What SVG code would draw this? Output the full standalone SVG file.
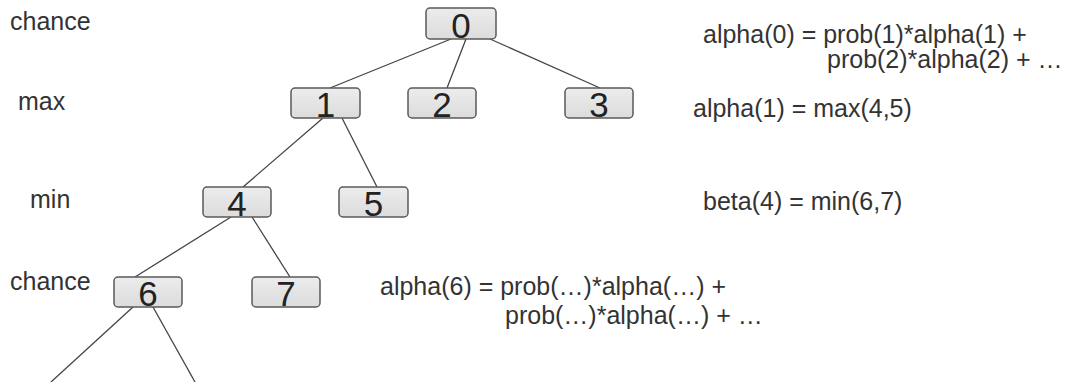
<svg xmlns="http://www.w3.org/2000/svg" width="1079" height="382" viewBox="0 0 1079 382">
<defs>
<linearGradient id="g" x1="0" y1="0" x2="0" y2="1">
<stop offset="0" stop-color="#ececec"/>
<stop offset="1" stop-color="#dcdcdc"/>
</linearGradient>
</defs>
<style>
.box{fill:url(#g);stroke:#5a5a5a;stroke-width:1.5}
.num{font-family:"Liberation Sans",Arial,sans-serif;font-size:35px;fill:#222;text-anchor:middle}
.lbl{font-family:"Liberation Sans",Arial,sans-serif;font-size:25px;fill:#333}
.edge{stroke:#444;stroke-width:1.3;fill:none}
</style>
<rect width="1079" height="382" fill="#fff"/>
<g id="connectors">
<line class="edge" x1="451" y1="39" x2="330" y2="88"/>
<line class="edge" x1="466" y1="39" x2="447" y2="88"/>
<line class="edge" x1="490" y1="39" x2="600" y2="88"/>
<line class="edge" x1="323" y1="118" x2="243" y2="187"/>
<line class="edge" x1="342" y1="118" x2="377" y2="187"/>
<line class="edge" x1="231" y1="217" x2="135" y2="277"/>
<line class="edge" x1="252" y1="217" x2="290" y2="277"/>
<line class="edge" x1="133" y1="307" x2="51" y2="382"/>
<line class="edge" x1="153" y1="307" x2="195" y2="382"/>
</g>
<g id="node0"><rect class="box" x="426" y="8" width="70" height="31" rx="4"/><text class="num" x="461" y="38">0</text></g>
<g id="node1"><rect class="box" x="291" y="88" width="69" height="30" rx="4"/><text class="num" x="325.5" y="117">1</text></g>
<g id="node2"><rect class="box" x="408" y="88" width="68" height="30" rx="4"/><text class="num" x="442" y="117">2</text></g>
<g id="node3"><rect class="box" x="565" y="88" width="68" height="30" rx="4"/><text class="num" x="599" y="117">3</text></g>
<g id="node4"><rect class="box" x="203" y="187" width="68" height="30" rx="4"/><text class="num" x="237" y="216">4</text></g>
<g id="node5"><rect class="box" x="339" y="187" width="69" height="30" rx="4"/><text class="num" x="373.5" y="216">5</text></g>
<g id="node6"><rect class="box" x="114" y="277" width="68" height="30" rx="4"/><text class="num" x="148" y="306">6</text></g>
<g id="node7"><rect class="box" x="252" y="277" width="68" height="30" rx="4"/><text class="num" x="286" y="306">7</text></g>
<g id="labels">
<text class="lbl" x="10" y="30">chance</text>
<text class="lbl" x="18" y="110">max</text>
<text class="lbl" x="30" y="208">min</text>
<text class="lbl" x="10" y="290">chance</text>
<text class="lbl" x="703" y="43">alpha(0) = prob(1)*alpha(1) +</text>
<text class="lbl" x="827" y="68">prob(2)*alpha(2) + …</text>
<text class="lbl" x="693" y="117">alpha(1) = max(4,5)</text>
<text class="lbl" x="703" y="210">beta(4) = min(6,7)</text>
<text class="lbl" x="380" y="295">alpha(6) = prob(…)*alpha(…) +</text>
<text class="lbl" x="505" y="324">prob(…)*alpha(…) + …</text>
</g>
</svg>
